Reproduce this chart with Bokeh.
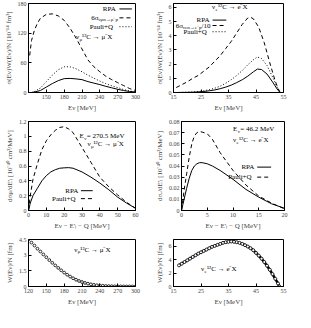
from bokeh.plotting import figure
from bokeh.layouts import column, row
from bokeh.models import Range1d, FixedTicker, CustomJSTickFormatter
from bokeh.core.properties import value
from bokeh.embed import file_html
from bokeh.resources import INLINE

# ---------------- data ----------------
# panel 1: nu_mu 12C -> mu- X, sigma*W/N  [1e-14 fm^3]
e1 = [125, 130, 140, 150, 160, 170, 180, 190, 200, 210, 220, 230, 240, 250, 260, 270, 280, 290, 300]
rpa1 = [0, 1, 4, 11, 18, 24, 28, 28.5, 27.5, 26, 22, 19, 16, 12.5, 9.5, 6.5, 4, 2, 1]
pauli1 = [0, 2, 9, 22, 35, 46, 52, 52, 48, 42, 35, 29, 23, 18, 13.5, 10, 6, 3, 1]
e1_free = [122, 125, 130, 135, 140, 150, 160, 170, 180, 190, 200, 210, 220, 230, 240, 250, 260, 270, 280, 290, 300]
free1 = [75, 105, 126, 140, 150, 158, 159, 155, 146, 130, 110, 88, 66, 52, 42, 33, 26, 20, 14, 8, 4]

# panel 2: nu_e 12C -> e- X
e2 = [16, 18, 20, 22, 24, 26, 28, 30, 32, 34, 36, 38, 40, 42, 43, 44, 46, 48, 50, 52, 53, 53.8]
free2 = [0.35, 0.55, 0.75, 1.0, 1.2, 1.5, 1.8, 2.2, 2.6, 3.1, 3.6, 4.2, 4.8, 5.25, 5.3, 5.2, 4.6, 3.5, 2.1, 0.8, 0.3, 0]
e2b = [16, 18, 20, 22, 24, 26, 28, 30, 32, 34, 36, 38, 40, 42, 44, 45.5, 47, 49, 51, 53, 53.8]
pauli2 = [0, 0.01, 0.02, 0.04, 0.07, 0.12, 0.2, 0.3, 0.45, 0.65, 0.9, 1.2, 1.55, 1.95, 2.3, 2.5, 2.4, 1.9, 1.1, 0.25, 0]
rpa2 = [0, 0.005, 0.01, 0.02, 0.04, 0.07, 0.12, 0.18, 0.27, 0.38, 0.52, 0.7, 0.9, 1.15, 1.45, 1.65, 1.62, 1.3, 0.75, 0.15, 0]

# panel 3: dsigma/dE' at E=270.5 MeV
w3 = [0, 1, 2.5, 5, 7.5, 10, 12.5, 15, 17.5, 20, 22.5, 25, 30, 35, 40, 45, 50, 55, 60]
rpa3 = [0, 0.1, 0.2, 0.3, 0.4, 0.47, 0.52, 0.55, 0.57, 0.575, 0.578, 0.57, 0.52, 0.45, 0.37, 0.28, 0.18, 0.1, 0.03]
pauli3 = [0, 0.2, 0.42, 0.63, 0.82, 0.94, 1.02, 1.08, 1.12, 1.13, 1.1, 1.05, 0.85, 0.65, 0.45, 0.32, 0.21, 0.11, 0.03]

# panel 4: dsigma/dE' at E=46.2 MeV
w4 = [0, 0.5, 1, 1.5, 2, 2.5, 3, 3.5, 4, 5, 6, 7.5, 10, 12.5, 15, 17.5, 20]
rpa4 = [0, 0.01, 0.02, 0.029, 0.036, 0.04, 0.042, 0.043, 0.043, 0.042, 0.04, 0.036, 0.028, 0.019, 0.012, 0.006, 0.002]
pauli4 = [0, 0.018, 0.033, 0.048, 0.06, 0.067, 0.07, 0.071, 0.0705, 0.069, 0.064, 0.052, 0.036, 0.023, 0.013, 0.0066, 0.0015]

# panel 5: W(E)/N for nu_mu
e5 = [120, 125, 130, 135, 140, 145, 150, 155, 160, 165, 170, 175, 180, 185, 190, 195, 200, 205, 210,
      215, 220, 225, 230, 235, 240, 245, 250, 255, 260, 265, 270, 275, 280, 285, 290, 295, 300]
w5 = [4.5, 4.2, 3.92, 3.62, 3.35, 3.07, 2.8, 2.53, 2.27, 2.02, 1.78, 1.55, 1.33, 1.13, 0.95, 0.79, 0.65, 0.53, 0.43,
      0.34, 0.27, 0.21, 0.16, 0.12, 0.09, 0.07, 0.05, 0.04, 0.03, 0.02, 0.015, 0.01, 0.008, 0.005, 0.003, 0.002, 0.001]

# panel 6: W(E)/N for nu_e
e6 = [17, 18, 19, 20, 21, 22, 23, 24, 25, 26, 27, 28, 29, 30, 31, 32, 33, 34, 35, 36, 37, 38, 39, 40,
      41, 42, 43, 44, 45, 46, 47, 48, 49, 50, 51, 52, 53, 53.5]
w6 = [3.15, 3.4, 3.65, 3.9, 4.15, 4.4, 4.65, 4.9, 5.1, 5.3, 5.5, 5.7, 5.9, 6.05, 6.2, 6.35, 6.5, 6.6, 6.65, 6.7,
      6.65, 6.6, 6.5, 6.35, 6.15, 5.95, 5.7, 5.4, 5.0, 4.6, 4.15, 3.65, 3.1, 2.5, 1.85, 1.15, 0.45, 0.0]

# tick values
xt1 = [150, 180, 210, 240, 270, 300]
yt1 = [0, 60, 120, 180]
xt2 = [15, 25, 35, 45, 55]
yt2 = [0, 1, 2, 3, 4, 5, 6]
xt3 = [0, 10, 20, 30, 40, 50, 60]
yt3 = [0, 0.2, 0.4, 0.6, 0.8, 1, 1.2]
xt4 = [0, 5, 10, 15, 20]
yt4 = [0, 0.01, 0.02, 0.03, 0.04, 0.05, 0.06, 0.07, 0.08]
xt5 = [120, 150, 180, 210, 240, 270, 300]
yt5 = [0, 1.5, 3, 4.5]
xt6 = [15, 25, 35, 45, 55]
yt6 = [0, 2, 4, 6]

# ---------------- style ----------------
SERIF = "Liberation Serif"
TICK_FS = "6px"
LAB_FS = "7px"
TXT_FS = 7.0
DASH = "4 3"
DOT = "1 2"


def mkfig(w, h, xr, yr, bl, br, bt, bb, xt, yt, xl, yl):
    p = figure(width=w, height=h, x_range=Range1d(*xr), y_range=Range1d(*yr),
               output_backend="svg", toolbar_location=None,
               min_border_left=bl, min_border_right=br, min_border_top=bt, min_border_bottom=bb)
    p.xgrid.visible = False
    p.ygrid.visible = False
    p.outline_line_color = "black"
    p.outline_line_alpha = 1
    p.outline_line_width = 1
    p.background_fill_color = "white"
    p.border_fill_color = "white"
    for ax, t, lab in ((p.xaxis[0], xt, xl), (p.yaxis[0], yt, yl)):
        ax.ticker = FixedTicker(ticks=t)
        ax.formatter = CustomJSTickFormatter(code="return String(tick)")
        ax.major_tick_in = 3
        ax.major_tick_out = 0
        ax.minor_tick_line_color = None
        ax.axis_line_color = "black"
        ax.major_label_text_font = SERIF
        ax.major_label_text_font_size = TICK_FS
        ax.major_label_standoff = 2
        ax.axis_label = lab
        ax.axis_label_text_font = SERIF
        ax.axis_label_text_font_size = LAB_FS
        ax.axis_label_text_font_style = "normal"
        ax.axis_label_standoff = 2
    return p


def tw(s, fs):
    w = 0.0
    for c in s:
        if c == ' ':
            w += 0.25
        elif c == '→':
            w += 0.9
        elif c in '¹²³⁻':
            w += 0.32
        elif c.isupper():
            w += 0.68
        elif c in '.,':
            w += 0.25
        elif c in '+=':
            w += 0.56
        elif c in '/()[]':
            w += 0.33
        else:
            w += 0.5
    return w * fs


def rich(p, x, y, segs, fs=TXT_FS, align="left"):
    sizes = [fs if k == "n" else fs * 0.72 for _, k in segs]
    widths = [tw(t, s) for (t, _), s in zip(segs, sizes)]
    total = sum(widths)
    off = 0.0 if align == "left" else -total
    for (t, k), s, wd in zip(segs, sizes, widths):
        dy = 0 if k == "n" else 2
        p.text(x=[x], y=[y], text=[t], x_offset=off, y_offset=dy,
               text_font=value(SERIF), text_font_size=f"{s:.1f}px",
               text_align="left", text_baseline="middle", text_color="black")
        off += wd


def leg_line(p, x0, x1, y, dash):
    p.line(x=[x0, x1], y=[y, y], line_color="black", line_width=1, line_dash=dash)


NUMU = [("ν", "n"), ("μ", "s"), (" ¹²C → μ⁻X", "n")]
NUE = [("ν", "n"), ("e", "s"), (" ¹²C → e⁻X", "n")]

# ---------------- panel 1 ----------------
p1 = mkfig(152, 114, (120, 300), (0, 180), 28, 17, 3, 20, xt1, yt1,
           "Eν [MeV]", "σ(Eν)W(Eν)/N [10⁻¹⁴ fm³]")
p1.line(e1, rpa1, line_color="black", line_width=1)
p1.line(e1_free, free1, line_color="black", line_width=1, line_dash=DASH)
p1.line(e1, pauli1, line_color="black", line_width=1, line_dash=DOT)
rich(p1, 269, 169, [("RPA", "n")], align="right")
rich(p1, 269, 151, [("6σ", "n"), ("νμn→μ⁻p", "s")], align="right")
rich(p1, 269, 133, [("Pauli+Q", "n")], align="right")
leg_line(p1, 273, 294, 169, "solid")
leg_line(p1, 273, 294, 151, DASH)
leg_line(p1, 273, 294, 133, DOT)
rich(p1, 200, 112, NUMU)

# ---------------- panel 2 ----------------
p2 = mkfig(140, 114, (15, 55), (0, 6.27), 18, 9, 3, 20, xt2, yt2,
           "Eν [MeV]", "σ(Eν)W(Eν)/N [10⁻¹⁴ fm³]")
p2.line(e2b, rpa2, line_color="black", line_width=1)
p2.line(e2, free2, line_color="black", line_width=1, line_dash=DASH)
p2.line(e2b, pauli2, line_color="black", line_width=1, line_dash=DOT)
rich(p2, 29, 6.0, NUE)
rich(p2, 28.6, 5.1, [("RPA", "n")], align="right")
rich(p2, 28.6, 4.72, [("6σ", "n"), ("νen→e⁻p", "s"), ("/10", "n")], align="right")
rich(p2, 28.6, 4.28, [("Pauli+Q", "n")], align="right")
leg_line(p2, 29.2, 34.2, 5.1, "solid")
leg_line(p2, 29.2, 34.2, 4.72, DASH)
leg_line(p2, 29.2, 34.2, 4.28, DOT)

# ---------------- panel 3 ----------------
p3 = mkfig(152, 118, (0, 60), (0, 1.2), 28, 17, 7, 21, xt3, yt3,
           "Eν − E′ₗ − Q [MeV]", "dσμ/dE′ₗ [10⁻⁴⁰ cm²/MeV]")
p3.line(w3, rpa3, line_color="black", line_width=1)
p3.line(w3, pauli3, line_color="black", line_width=1, line_dash=DASH)
rich(p3, 54, 1.0, [("E", "n"), ("ν", "s"), (" = 270.5 MeV", "n")], align="right")
rich(p3, 54, 0.89, NUMU, align="right")
rich(p3, 28.6, 0.267, [("RPA", "n")], align="right")
rich(p3, 28.6, 0.16, [("Pauli+Q", "n")], align="right")
leg_line(p3, 29.4, 36, 0.267, "solid")
leg_line(p3, 29.4, 36, 0.16, DASH)

# ---------------- panel 4 ----------------
p4 = mkfig(140, 118, (0, 20), (0, 0.08), 24, 8, 7, 21, xt4, yt4,
           "Eν − E′ₗ − Q [MeV]", "dσₑ/dE′ₗ [10⁻⁴⁰ cm²/MeV]")
p4.line(w4, rpa4, line_color="black", line_width=1)
p4.line(w4, pauli4, line_color="black", line_width=1, line_dash=DASH)
rich(p4, 10, 0.073, [("E", "n"), ("ν", "s"), (" = 46.2 MeV", "n")])
rich(p4, 10, 0.063, NUE)
rich(p4, 14.4, 0.039, [("RPA", "n")], align="right")
rich(p4, 14.4, 0.030, [("Pauli+Q", "n")], align="right")
leg_line(p4, 14.7, 17.4, 0.039, "solid")
leg_line(p4, 14.7, 17.4, 0.030, DASH)

# ---------------- panel 5 ----------------
p5 = mkfig(152, 76, (120, 300), (0, 4.5), 28, 17, 7, 22, xt5, yt5,
           "Eν [MeV]", "W(Eν)/N [fm]")
p5.scatter(e5, w5, marker="circle", size=2.8, fill_color="white", line_color="black", line_width=0.8)
rich(p5, 197, 3.5, NUMU)

# ---------------- panel 6 ----------------
p6 = mkfig(140, 76, (15, 55), (0, 7), 18, 9, 7, 22, xt6, yt6,
           "Eν [MeV]", "W(Eν)/N [fm]")
p6.line(e6, w6, line_color="black", line_width=2.5)
p6.scatter(e6, w6, marker="circle", size=3, fill_color="white", line_color="black", line_width=0.8)
rich(p6, 25, 2.6, NUE)

layout = column(row(p1, p2), row(p3, p4), row(p5, p6))
open("out.html", "w").write(file_html(layout, INLINE))
